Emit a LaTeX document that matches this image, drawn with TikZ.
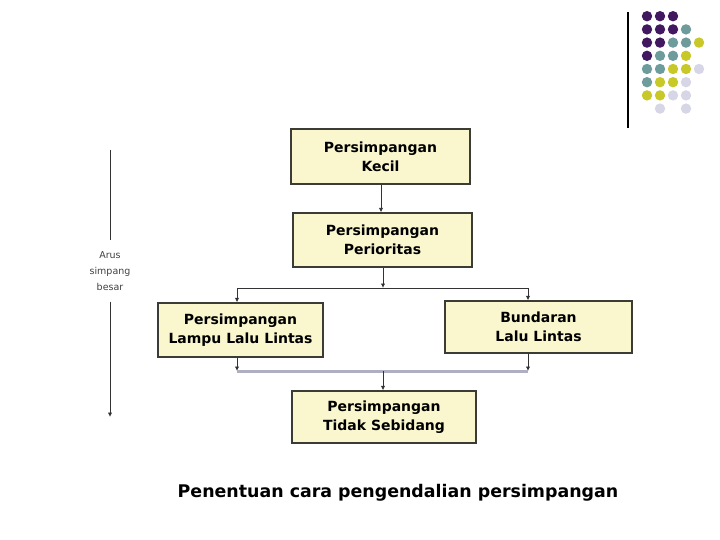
\documentclass[tikz,border=0pt]{standalone}
\usepackage{fontspec}
\setmainfont{DejaVu Sans}
\usetikzlibrary{arrows.meta}
\definecolor{boxfill}{RGB}{250,246,206}
\definecolor{boxline}{RGB}{60,60,55}
\definecolor{dP}{RGB}{66,24,96}
\definecolor{dT}{RGB}{110,155,155}
\definecolor{dY}{RGB}{200,200,40}
\definecolor{dL}{RGB}{214,214,230}
\definecolor{busline}{RGB}{175,175,195}
\begin{document}
\begin{tikzpicture}[x=1pt,y=-1pt,
  stepbox/.style={draw=boxline,line width=1.3pt,fill=boxfill,align=center,
    inner sep=2pt,font=\fontsize{14}{19}\selectfont\bfseries},
  conn/.style={draw=black!80,line width=0.9pt},
  tip/.style={conn,-{Latex[length=4.5pt,width=4.5pt]}},
  dot/.style={radius=5.2pt}]
\useasboundingbox (0,0) rectangle (720,540);

% logo
\draw[line width=1.2pt] (628,12) -- (628,128);
\foreach \c/\r/\col in {1/1/dP,2/1/dP,3/1/dP,
  1/2/dP,2/2/dP,3/2/dP,4/2/dT,
  1/3/dP,2/3/dP,3/3/dT,4/3/dT,5/3/dY,
  1/4/dP,2/4/dT,3/4/dT,4/4/dY,
  1/5/dT,2/5/dT,3/5/dY,4/5/dY,5/5/dL,
  1/6/dT,2/6/dY,3/6/dY,4/6/dL,
  1/7/dY,2/7/dY,3/7/dL,4/7/dL,
  2/8/dL,4/8/dL}
  \fill[\col] ({634+13*\c},{3+13.2*\r}) circle[radius=5.2pt];

% boxes
\node[stepbox,minimum width=179pt,minimum height=55pt] (k) at (380.5,156.5) {Persimpangan\\Kecil};
\node[stepbox,minimum width=179pt,minimum height=54pt] (p) at (382.5,240) {Persimpangan\\Perioritas};
\node[stepbox,minimum width=165pt,minimum height=54pt] (l) at (240.5,330) {Persimpangan\\Lampu Lalu Lintas};
\node[stepbox,minimum width=187pt,minimum height=52pt] (b) at (538.5,327) {Bundaran\\Lalu Lintas};
\node[stepbox,minimum width=184pt,minimum height=52pt] (t) at (384,417) {Persimpangan\\Tidak Sebidang};

% connectors
\coordinate (s1) at (383,288);
\coordinate (s1l) at (237,288);
\coordinate (s1r) at (528,288);
\coordinate (s2) at (383,371);
\coordinate (s2l) at (237,371);
\coordinate (s2r) at (528,371);

\draw[tip] (k.south -| 381,0) -- (p.north -| 381,0);
\draw[tip] (p.south -| s1) -- (s1);
\draw[conn] (s1l) -- (s1r);
\draw[tip] (s1l) -- (l.north -| s1l);
\draw[tip] (s1r) -- (b.north -| s1r);
\draw[tip] (l.south -| s2l) -- (s2l);
\draw[tip] (b.south -| s2r) -- (s2r);
\draw[draw=busline,line width=3pt] (s2l) -- (s2r);
\draw[tip] (s2) -- (t.north -| s2);

% left flow arrow
\coordinate (ftop) at (110,150);
\coordinate (fbot) at (110,417);
\node[align=center,font=\fontsize{9.5}{16}\selectfont,text=black!75,inner xsep=2pt,inner ysep=11pt] (lab) at (110,271) {Arus\\simpang\\besar};
\draw[conn] (ftop) -- (lab.north);
\draw[tip] (lab.south) -- (fbot);

% title
\node[font=\fontsize{17.4}{20}\selectfont\bfseries] (title) at (398,493) {Penentuan cara pengendalian persimpangan};
\end{tikzpicture}
\end{document}
